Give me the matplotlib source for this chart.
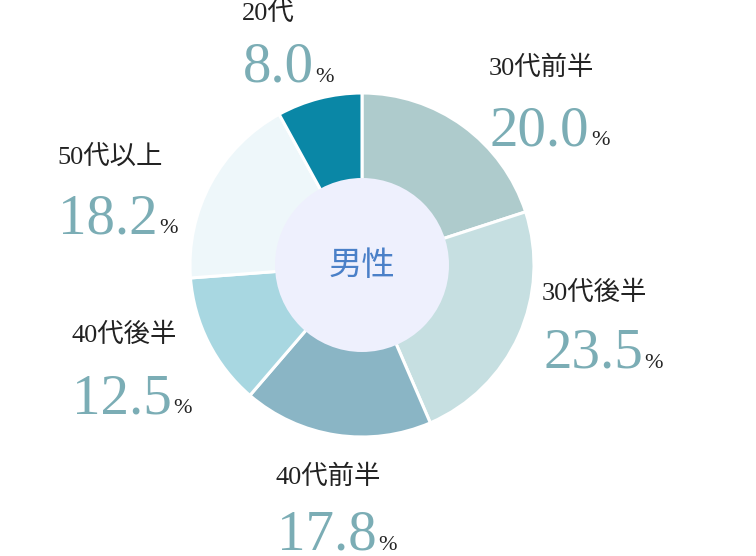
import matplotlib
matplotlib.use("Agg")
import matplotlib.pyplot as plt
from matplotlib.patches import Circle

# data (clockwise from top)
groups = ["30代前半", "30代後半", "40代前半", "40代後半", "50代以上", "20代"]
shares = [20.0, 23.5, 17.8, 12.5, 18.2, 8.0]
colors = ["#aecbcc", "#c6dfe1", "#8ab5c5", "#a8d7e1", "#eef7fa", "#0a87a6"]
center_label = "男性"

# label anchors in pixels (x, label centre y, number baseline y)
label_pos = [
    (489, 68, 145),
    (542, 293, 368),
    (276, 477, 550),
    (71, 335, 413),
    (57, 157, 233),
    (242, 13, 82),
]

W, H = 756, 556
serif_jp = ["Liberation Serif", "Noto Sans CJK JP"]

fig = plt.figure(figsize=(W / 100, H / 100), dpi=100)
ax = fig.add_axes([0, 0, 1, 1])
ax.axis("off")

cx, cy = 362, H - 265
ax.pie(shares, colors=colors, startangle=90, counterclock=False,
       center=(cx, cy), radius=172,
       wedgeprops=dict(edgecolor="white", linewidth=2.2))
ax.add_patch(Circle((cx, cy), 87, facecolor="#eef0fd", edgecolor="none", zorder=5))
ax.text(cx, cy, center_label, ha="center", va="center", fontsize=24,
        color="#4a80c8", family="Noto Sans CJK JP", zorder=6)

ax.set_xlim(0, W)
ax.set_ylim(0, H)

for name, val, (px, ly, by) in zip(groups, shares, label_pos):
    ax.text(px, H - ly, name, ha="left", va="center", fontsize=19,
            color="#222222", family=serif_jp)
    num = ax.text(px + 1, H - by, f"{val:.1f}", ha="left", va="baseline",
                  fontsize=41, color="#7badb5", family="Liberation Serif")
    ax.annotate("%", xy=(1.0, H - by), xycoords=(num, "data"), xytext=(1, 0),
                textcoords="offset points", ha="left", va="baseline",
                fontsize=16, color="#222222", family="Liberation Serif")

fig.savefig("out.png", dpi=100, facecolor="white")
